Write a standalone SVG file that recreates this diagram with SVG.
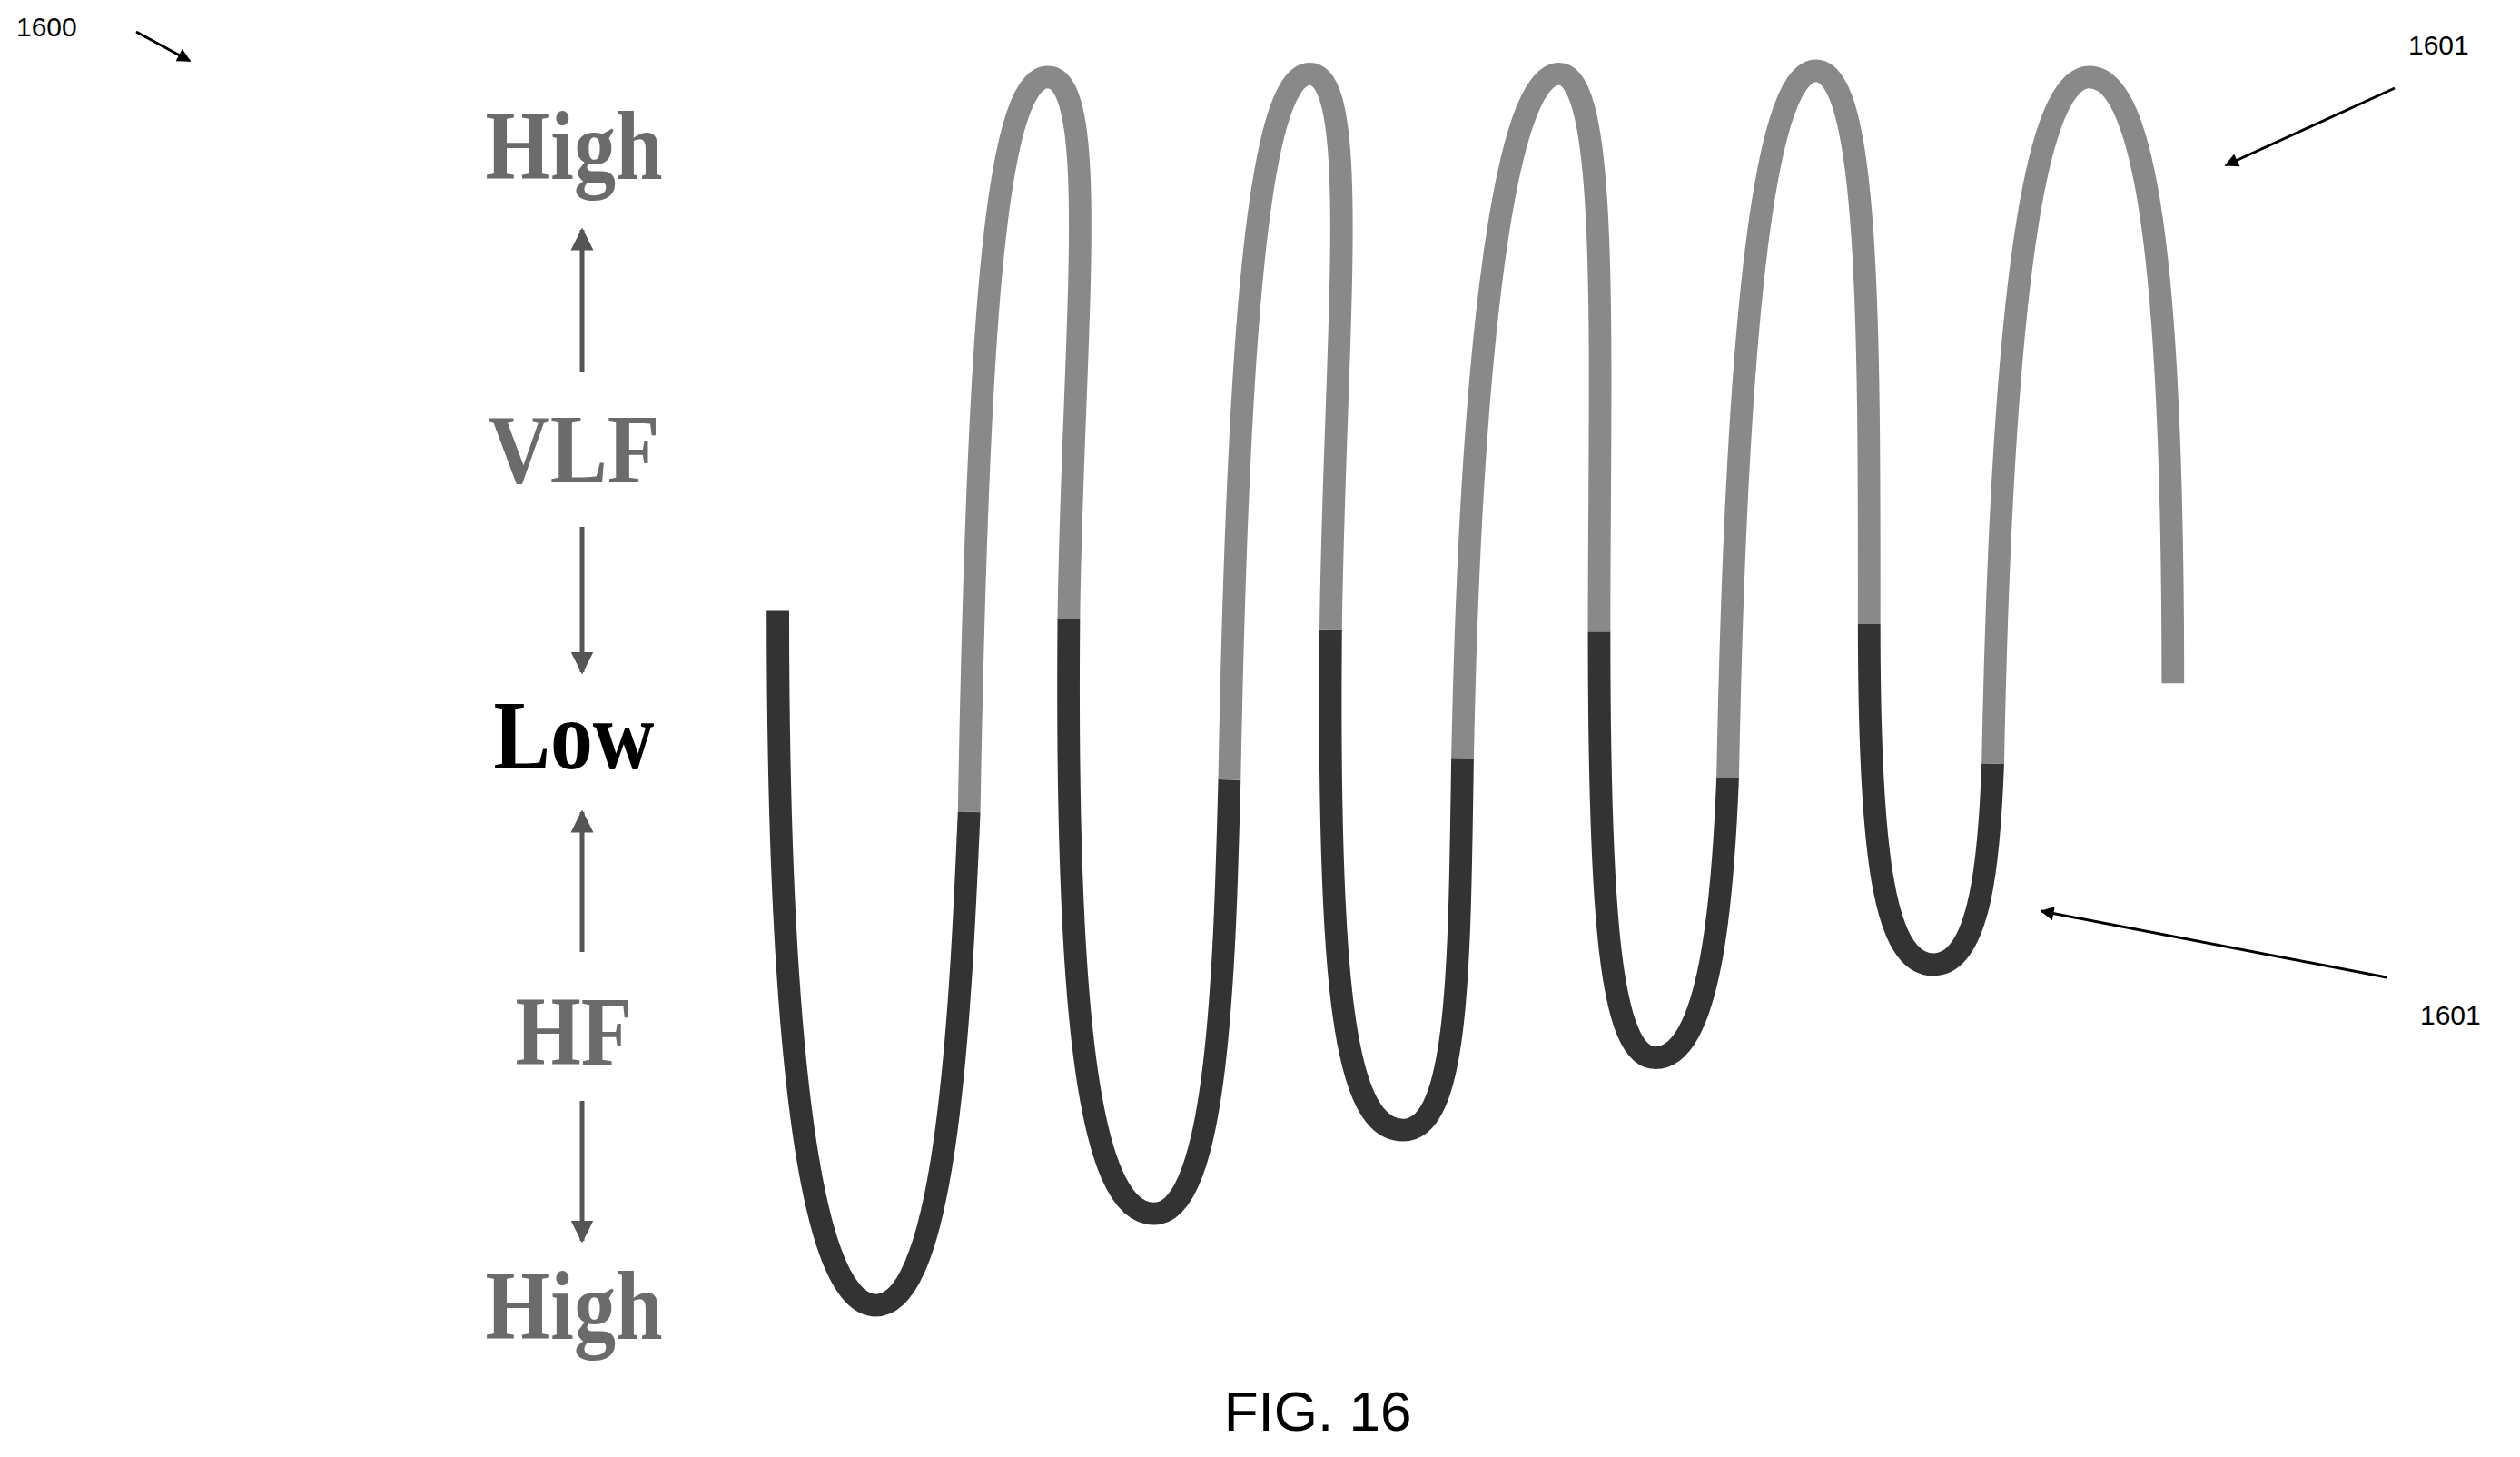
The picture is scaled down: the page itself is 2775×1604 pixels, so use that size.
<svg xmlns="http://www.w3.org/2000/svg" width="2775" height="1604" viewBox="0 0 2775 1604">
<style>
.lab{font-family:"Liberation Serif",serif;font-weight:bold;font-size:108px;text-anchor:middle;fill:#6b6b6b}
.ref{font-family:"Liberation Sans",sans-serif;font-size:30px;fill:#000}
.ax{stroke:#555;stroke-width:5;fill:none;marker-end:url(#ah)}
.ld{stroke:#000;stroke-width:3;fill:none;marker-end:url(#lh)}
.dk{stroke:#333;stroke-width:14;fill:none}
.gr{stroke:#898989;stroke-width:14;fill:none}
</style>
<defs>
<marker id="ah" viewBox="0 0 10 10" refX="9" refY="5" markerWidth="5" markerHeight="6" orient="auto" markerUnits="strokeWidth"><path d="M0,0L10,5L0,10z" fill="#555"/></marker>
<marker id="lh" viewBox="0 0 10 10" refX="9" refY="5" markerWidth="6" markerHeight="5" orient="auto" markerUnits="strokeWidth"><path d="M0,0L10,5L0,10z" fill="#000"/></marker>
</defs>
<rect width="2775" height="1604" fill="#fff"/>
<g id="labels">
<text class="lab" x="632" y="197" textLength="195" lengthAdjust="spacingAndGlyphs">High</text>
<text class="lab" x="632" y="531" textLength="189" lengthAdjust="spacingAndGlyphs">VLF</text>
<text class="lab" x="632" y="846" style="fill:#000" textLength="177" lengthAdjust="spacingAndGlyphs">Low</text>
<text class="lab" x="632" y="1172" textLength="129" lengthAdjust="spacingAndGlyphs">HF</text>
<text class="lab" x="632" y="1474" textLength="195" lengthAdjust="spacingAndGlyphs">High</text>
</g>
<g id="connectors">
<line class="ax" x1="641" y1="410" x2="641" y2="253"/>
<line class="ax" x1="641" y1="580" x2="641" y2="740"/>
<line class="ax" x1="641" y1="1048" x2="641" y2="894"/>
<line class="ax" x1="641" y1="1212" x2="641" y2="1366"/>
<line class="ld" x1="150" y1="35" x2="209" y2="67"/>
<line class="ld" x1="2637" y1="97" x2="2451" y2="182"/>
<line class="ld" x1="2628" y1="1076" x2="2248" y2="1003"/>
</g>
<g id="spring" transform="scale(1.7698)">
<path class="dk" d="M484,380 C484,620 500,812 545,812 C590,812 598,620 603,505"/>
<path class="gr" d="M603,505 C608,220 618,48 652,48 C686,48 667,220 665,385"/>
<path class="dk" d="M665,385 C663,620 676,755 718,755 C758,755 762,600 765,485"/>
<path class="gr" d="M765,485 C770,220 782,46 815,46 C848,46 830,220 828,392"/>
<path class="dk" d="M828,392 C826,610 836,703 873,703 C908,703 908,600 910,472"/>
<path class="gr" d="M910,472 C915,220 936,46 970,46 C1002,46 995,220 995,393"/>
<path class="dk" d="M995,393 C995,570 1002,658 1030,658 C1064,658 1072,560 1075,484"/>
<path class="gr" d="M1075,484 C1080,220 1096,44 1130,44 C1164,44 1163,220 1163,388"/>
<path class="dk" d="M1163,388 C1163,530 1172,600 1203,600 C1233,600 1238,530 1240,475"/>
<path class="gr" d="M1240,475 C1245,220 1262,48 1300,48 C1342,48 1352,220 1352,425"/>
</g>
<g id="refs">
<text class="ref" x="18" y="40">1600</text>
<text class="ref" x="2652" y="60">1601</text>
<text class="ref" x="2665" y="1128">1601</text>
<text x="1451" y="1575" style="font-family:'Liberation Sans',sans-serif;font-size:62px;text-anchor:middle">FIG. 16</text>
</g>
</svg>
